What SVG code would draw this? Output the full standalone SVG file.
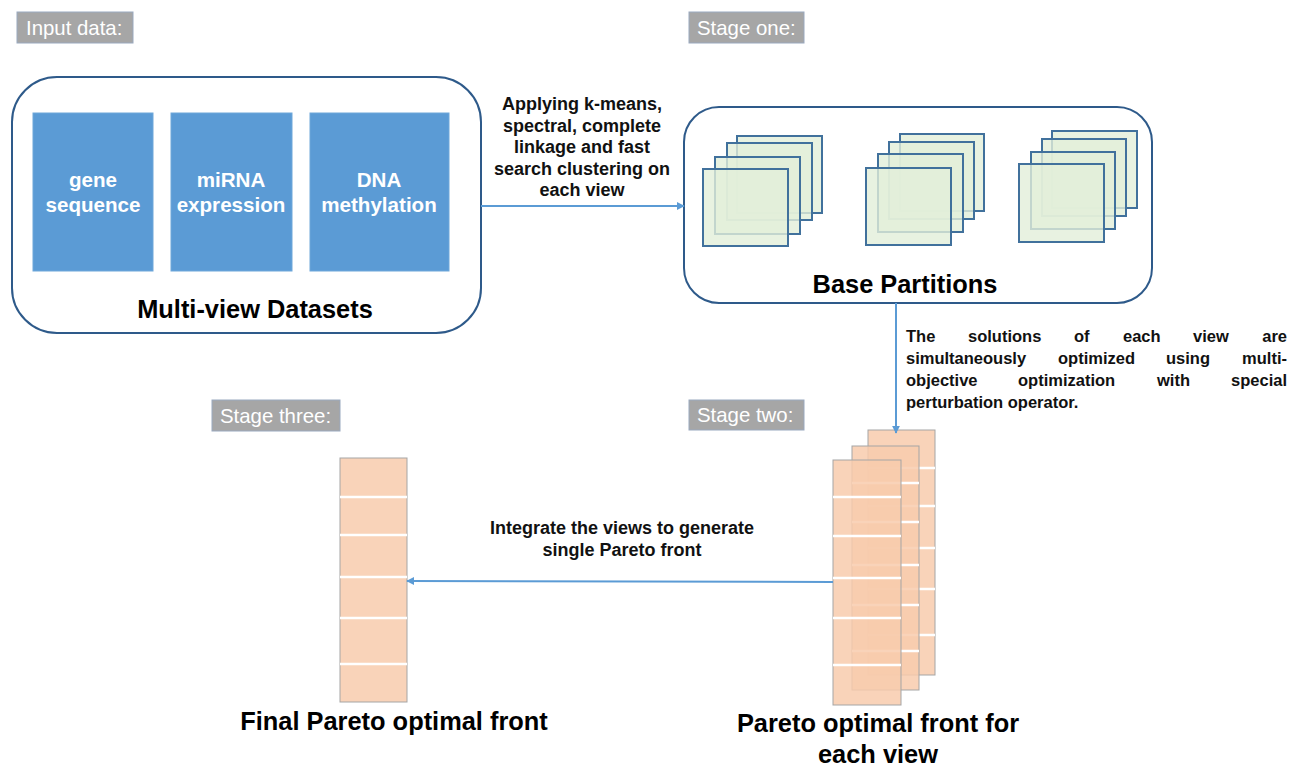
<svg xmlns="http://www.w3.org/2000/svg" width="1303" height="766" viewBox="0 0 1303 766">
<defs>
<style>
.tag{fill:#a6a6a6;stroke:#9aa9bf;stroke-width:1}
.tagt{font-family:"Liberation Sans",Arial,sans-serif;font-size:20.4px;fill:#ffffff}
.frame{fill:#ffffff;stroke:#2e5a8a;stroke-width:2}
.blue{fill:#5b9bd5;stroke:#6fa7da;stroke-width:1}
.bt{font-family:"Liberation Sans",Arial,sans-serif;font-size:20.6px;font-weight:bold;fill:#ffffff;text-anchor:middle}
.big{font-family:"Liberation Sans",Arial,sans-serif;font-size:25.4px;font-weight:bold;fill:#000000;text-anchor:middle}
.lbl{font-family:"Liberation Sans",Arial,sans-serif;font-size:18px;font-weight:bold;fill:#111111}
.jt{font-family:"Liberation Sans",Arial,sans-serif;font-size:16.5px;font-weight:bold;fill:#111111}
.mid{text-anchor:middle}
.end{text-anchor:end}
.sq{fill:#e2efda;fill-opacity:0.8;stroke:#41719c;stroke-width:2}
.pe{fill:#f8cbad;fill-opacity:0.85;stroke:#a5a5a5;stroke-width:1}
.wl{stroke:#ffffff;stroke-width:2.5}
.conn{stroke:#5b9bd5;stroke-width:2;fill:none}
</style>
<marker id="ah" viewBox="0 0 10 10" refX="9" refY="5" markerWidth="4" markerHeight="4" orient="auto" markerUnits="strokeWidth">
<path d="M0,0 L10,5 L0,10 z" fill="#5b9bd5"/>
</marker>
</defs>
<rect width="1303" height="766" fill="#ffffff"/>

<g id="tag-input"><rect class="tag" x="17" y="12" width="116" height="31"/><text class="tagt" x="26" y="35">Input data:</text></g>
<g id="tag-stage1"><rect class="tag" x="689" y="12" width="115" height="31"/><text class="tagt" x="697" y="35">Stage one:</text></g>
<g id="tag-stage2"><rect class="tag" x="689" y="400" width="115" height="30"/><text class="tagt" x="697" y="422">Stage two:</text></g>
<g id="tag-stage3"><rect class="tag" x="212" y="400" width="128" height="31"/><text class="tagt" x="220" y="423">Stage three:</text></g>

<g id="datasets">
<rect class="frame" x="12" y="77" width="469" height="256" rx="45" ry="45"/>
<rect class="blue" x="33" y="113" width="120" height="158"/>
<rect class="blue" x="171" y="113" width="121" height="158"/>
<rect class="blue" x="310" y="113" width="139" height="158"/>
<text class="bt" x="93" y="187">gene</text><text class="bt" x="93" y="212">sequence</text>
<text class="bt" x="231" y="187">miRNA</text><text class="bt" x="231" y="212">expression</text>
<text class="bt" x="379" y="187">DNA</text><text class="bt" x="379" y="212">methylation</text>
<text class="big" x="255" y="318">Multi-view Datasets</text>
</g>

<g id="base-partitions">
<rect class="frame" x="684" y="107" width="468" height="196" rx="35" ry="35"/>
<rect class="sq" x="737" y="136" width="85" height="77"/>
<rect class="sq" x="727" y="143" width="85" height="77"/>
<rect class="sq" x="715" y="157" width="85" height="77"/>
<rect class="sq" x="703" y="169" width="85" height="77"/>
<rect class="sq" x="900" y="134" width="84" height="77"/>
<rect class="sq" x="889" y="142" width="85" height="77"/>
<rect class="sq" x="878" y="154" width="85" height="78"/>
<rect class="sq" x="866" y="168" width="85" height="77"/>
<rect class="sq" x="1052" y="131" width="85" height="77"/>
<rect class="sq" x="1042" y="139" width="84" height="77"/>
<rect class="sq" x="1031" y="152" width="84" height="77"/>
<rect class="sq" x="1019" y="164" width="85" height="78"/>
<text class="big" x="905" y="293">Base Partitions</text>
</g>

<g id="pareto-stack">
<rect class="pe" x="868" y="430" width="67" height="245"/>
<line class="wl" x1="868" y1="468" x2="935" y2="468"/><line class="wl" x1="868" y1="506" x2="935" y2="506"/><line class="wl" x1="868" y1="548" x2="935" y2="548"/><line class="wl" x1="868" y1="589" x2="935" y2="589"/><line class="wl" x1="868" y1="635" x2="935" y2="635"/>
<rect class="pe" x="852" y="446" width="67" height="244"/>
<line class="wl" x1="852" y1="483" x2="919" y2="483"/><line class="wl" x1="852" y1="522" x2="919" y2="522"/><line class="wl" x1="852" y1="565" x2="919" y2="565"/><line class="wl" x1="852" y1="605" x2="919" y2="605"/><line class="wl" x1="852" y1="651" x2="919" y2="651"/>
<rect class="pe" x="833" y="460" width="68" height="245"/>
<line class="wl" x1="833" y1="497" x2="901" y2="497"/><line class="wl" x1="833" y1="536" x2="901" y2="536"/><line class="wl" x1="833" y1="578" x2="901" y2="578"/><line class="wl" x1="833" y1="618" x2="901" y2="618"/><line class="wl" x1="833" y1="665" x2="901" y2="665"/>
<text class="big" x="878" y="732">Pareto optimal front for</text>
<text class="big" x="878" y="763">each view</text>
</g>

<g id="final-front">
<rect class="pe" x="340" y="458" width="67" height="244" fill-opacity="1"/>
<line class="wl" x1="340" y1="497" x2="407" y2="497"/><line class="wl" x1="340" y1="535" x2="407" y2="535"/><line class="wl" x1="340" y1="577" x2="407" y2="577"/><line class="wl" x1="340" y1="618" x2="407" y2="618"/><line class="wl" x1="340" y1="664" x2="407" y2="664"/>
<text class="big" x="394" y="730">Final Pareto optimal front</text>
</g>

<g id="connectors">
<line class="conn" x1="481" y1="206" x2="684" y2="206" marker-end="url(#ah)"/>
<line class="conn" x1="896" y1="303" x2="896" y2="433" marker-end="url(#ah)"/>
<line class="conn" x1="833" y1="582" x2="407" y2="581" marker-end="url(#ah)"/>
</g>

<g id="labels">
<text class="lbl mid" x="582" y="110">Applying k-means,</text>
<text class="lbl mid" x="582" y="132">spectral, complete</text>
<text class="lbl mid" x="582" y="153">linkage and fast</text>
<text class="lbl mid" x="582" y="175">search clustering on</text>
<text class="lbl mid" x="582" y="196">each view</text>

<text class="jt" x="906" y="342">The</text><text class="jt" x="968" y="342">solutions</text><text class="jt" x="1074" y="342">of</text><text class="jt" x="1123" y="342">each</text><text class="jt" x="1193" y="342">view</text><text class="jt end" x="1287" y="342">are</text>
<text class="jt" x="906" y="364">simultaneously</text><text class="jt" x="1058" y="364">optimized</text><text class="jt" x="1166" y="364">using</text><text class="jt end" x="1287" y="364">multi-</text>
<text class="jt" x="906" y="386">objective</text><text class="jt" x="1018" y="386">optimization</text><text class="jt" x="1157" y="386">with</text><text class="jt end" x="1287" y="386">special</text>
<text class="jt" x="906" y="408">perturbation operator.</text>

<text class="lbl mid" x="622" y="534">Integrate the views to generate</text>
<text class="lbl mid" x="622" y="556">single Pareto front</text>
</g>
</svg>
